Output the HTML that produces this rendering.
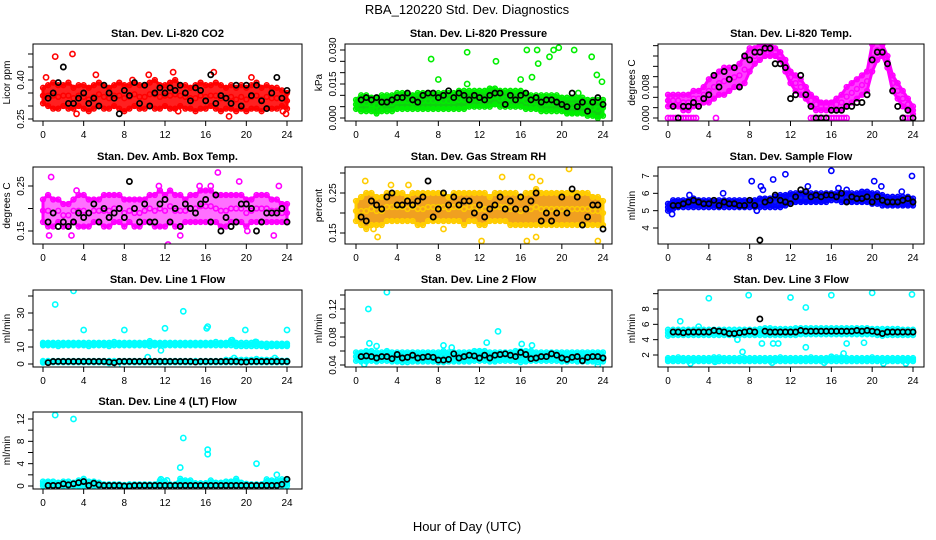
<!DOCTYPE html>
<html><head><meta charset="utf-8"><style>
html,body{margin:0;padding:0;background:#fff;}
svg{display:block;font-family:"Liberation Sans",sans-serif;}
</style></head><body>
<svg id="chart" width="936" height="540" viewBox="0 0 936 540" xmlns="http://www.w3.org/2000/svg">
<rect width="936" height="540" fill="#fff"/>
<text x="467" y="14" font-size="13" text-anchor="middle">RBA_120220  Std. Dev. Diagnostics</text>
<text x="467" y="531" font-size="13" text-anchor="middle">Hour of Day (UTC)</text>
</svg>
<script>
const hours = [0,0.5,1,1.5,2,2.5,3,3.5,4,4.5,5,5.5,6,6.5,7,7.5,8,8.5,9,9.5,10,10.5,11,11.5,12,12.5,13,13.5,14,14.5,15,15.5,16,16.5,17,17.5,18,18.5,19,19.5,20,20.5,21,21.5,22,22.5,23,23.5,24];
const xTicks = [0,4,8,12,16,20,24];

const co2Lo = [0.31,0.30,0.29,0.29,0.30,0.29,0.29,0.30,0.29,0.28,0.29,0.30,0.29,0.29,0.30,0.29,0.28,0.29,0.30,0.29,0.29,0.30,0.29,0.29,0.30,0.29,0.29,0.30,0.29,0.29,0.28,0.29,0.29,0.30,0.29,0.28,0.29,0.29,0.28,0.29,0.28,0.29,0.29,0.28,0.29,0.29,0.29,0.30,0.29];
const co2Hi = [0.37,0.38,0.39,0.38,0.38,0.39,0.37,0.38,0.38,0.37,0.38,0.39,0.38,0.37,0.38,0.39,0.38,0.38,0.39,0.38,0.38,0.39,0.40,0.38,0.38,0.39,0.40,0.38,0.38,0.37,0.38,0.39,0.38,0.38,0.39,0.38,0.37,0.38,0.37,0.38,0.37,0.38,0.39,0.37,0.38,0.37,0.37,0.36,0.35];
const co2Black = [null,0.33,0.35,0.39,0.45,0.31,0.31,0.33,0.35,0.31,0.33,0.30,0.38,0.35,0.33,0.27,0.36,0.34,0.39,0.31,0.38,0.30,0.35,0.37,0.35,0.37,0.36,0.38,0.35,0.32,0.37,0.36,0.32,0.42,0.31,0.34,0.33,0.31,0.38,0.30,0.38,0.34,0.38,0.32,0.29,0.35,0.41,0.33,0.36];
const co2OutX = [1.2,2.9,5.2,8.8,10.4,12.8,16.8,18.3,23.9,3.3,20.5,23.6,0.3,13.3];
const co2OutY = [0.49,0.50,0.42,0.40,0.42,0.43,0.43,0.26,0.27,0.27,0.41,0.28,0.41,0.28];

const prLo = [0.004,0.003,0.003,0.003,0.002,0.003,0.003,0.003,0.004,0.004,0.004,0.004,0.004,0.004,0.004,0.004,0.004,0.004,0.004,0.004,0.004,0.004,0.005,0.005,0.005,0.005,0.005,0.006,0.005,0.005,0.005,0.005,0.005,0.004,0.004,0.004,0.003,0.003,0.003,0.003,0.003,0.002,0.002,0.002,0.002,0.001,0.001,0.000,0.001];
const prHi = [0.008,0.010,0.010,0.009,0.009,0.010,0.010,0.010,0.011,0.011,0.011,0.010,0.011,0.011,0.011,0.011,0.011,0.011,0.011,0.011,0.012,0.012,0.012,0.012,0.012,0.012,0.013,0.013,0.012,0.012,0.012,0.012,0.012,0.011,0.010,0.010,0.010,0.010,0.010,0.010,0.009,0.009,0.009,0.009,0.009,0.008,0.008,0.008,0.008];
const prBlack = [null,0.008,0.009,0.008,0.009,0.007,0.007,0.008,0.009,0.009,0.011,0.008,0.007,0.010,0.011,0.011,0.009,0.010,0.012,0.009,0.011,0.010,0.008,0.010,0.009,0.008,0.010,0.011,0.011,0.006,0.010,0.008,0.010,0.011,0.008,0.009,0.007,0.008,0.008,0.007,0.006,0.005,0.011,0.005,0.007,0.003,0.007,0.009,0.006];
const prOutX = [7.3,8,10.8,10.8,13.6,16,16.6,17.1,17.6,17.7,18.8,19.2,19.7,21.2,21.6,22.9,23.4,23.9,1.5,2.3];
const prOutY = [0.026,0.017,0.029,0.015,0.025,0.017,0.030,0.018,0.030,0.024,0.027,0.030,0.031,0.030,0.011,0.027,0.019,0.016,0.004,0.004];

const tLo = [0.003,0.003,0.003,0.002,0.002,0.003,0.003,0.004,0.004,0.005,0.006,0.006,0.007,0.008,0.008,0.009,0.012,0.014,0.015,0.016,0.016,0.016,0.015,0.012,0.009,0.007,0.006,0.005,0.003,0.002,0.002,0.002,0.002,0.002,0.002,0.003,0.004,0.005,0.006,0.007,0.012,0.015,0.016,0.013,0.007,0.005,0.003,0.002,0.001];
const tHi = [0.006,0.006,0.006,0.006,0.006,0.007,0.007,0.008,0.010,0.011,0.012,0.013,0.013,0.013,0.014,0.016,0.018,0.018,0.019,0.019,0.019,0.018,0.017,0.015,0.012,0.011,0.010,0.008,0.006,0.005,0.004,0.004,0.004,0.005,0.006,0.008,0.009,0.010,0.011,0.012,0.019,0.020,0.019,0.016,0.011,0.009,0.007,0.005,0.003];
const tBlack = [null,0.003,0.000,0.003,0.003,0.004,0.003,0.005,0.006,0.011,0.008,0.012,0.010,0.013,0.008,0.016,0.015,0.017,0.017,0.018,0.018,0.014,0.014,0.013,0.005,0.006,0.011,0.006,0.003,0.000,0.000,0.000,0.002,0.002,0.002,0.003,0.003,0.004,0.004,0.006,0.015,0.017,0.017,0.014,0.007,0.003,0.000,0.002,0.000];
const tOutX = [0,0.25,0.5,0.75,1,1.25,1.5,1.75,2,2.25,2.5,2.75,4.7,14,14.25,14.5,14.75,15,15.25,15.5,15.75,16,16.25,16.5,16.75,17,17.25,17.5,23,23.25,23.5,23.75,24];
const tOutY = [0,0,0,0,0,0,0,0,0,0,0,0,0,0,0,0,0,0,0,0,0,0,0,0,0,0,0,0,0,0,0,0,0];

const ambLo = [0.17,0.16,0.16,0.17,0.16,0.16,0.17,0.16,0.16,0.16,0.17,0.17,0.16,0.16,0.17,0.17,0.16,0.17,0.16,0.16,0.17,0.17,0.16,0.16,0.16,0.17,0.16,0.16,0.17,0.17,0.17,0.17,0.17,0.17,0.17,0.16,0.16,0.17,0.17,0.17,0.16,0.17,0.17,0.17,0.17,0.17,0.17,0.17,0.17];
const ambHi = [0.22,0.23,0.22,0.22,0.21,0.21,0.22,0.23,0.23,0.22,0.22,0.22,0.23,0.23,0.23,0.23,0.22,0.22,0.22,0.22,0.22,0.23,0.23,0.24,0.23,0.24,0.23,0.23,0.22,0.23,0.23,0.24,0.24,0.24,0.23,0.23,0.23,0.23,0.23,0.23,0.22,0.22,0.23,0.23,0.23,0.22,0.22,0.21,0.21];
const ambBlack = [null,0.17,0.19,0.16,0.17,0.16,0.17,0.19,0.18,0.19,0.21,0.17,0.20,0.18,0.19,0.20,0.18,0.26,0.20,0.17,0.21,0.17,0.17,0.21,0.22,0.17,0.20,0.16,0.21,0.20,0.19,0.21,0.22,0.17,0.23,0.15,0.18,0.16,0.17,0.21,0.21,0.20,0.15,0.17,0.19,0.19,0.19,0.20,0.17];
const ambOutX = [0.8,0.6,12.3,17.2,19.3,22.7,23.2,13.5,3.3,11.4,2.8,16.5,20.1,15.4];
const ambOutY = [0.27,0.14,0.12,0.28,0.26,0.14,0.25,0.14,0.24,0.25,0.14,0.25,0.15,0.25];

const rhLo = [0.18,0.17,0.16,0.17,0.17,0.17,0.18,0.18,0.18,0.18,0.18,0.18,0.17,0.17,0.18,0.18,0.18,0.18,0.18,0.18,0.18,0.17,0.18,0.18,0.17,0.17,0.18,0.18,0.18,0.18,0.17,0.17,0.17,0.17,0.17,0.17,0.17,0.17,0.17,0.17,0.17,0.17,0.17,0.17,0.17,0.17,0.17,0.17,0.17];
const rhHi = [0.23,0.24,0.25,0.25,0.24,0.24,0.25,0.25,0.25,0.25,0.24,0.25,0.25,0.25,0.25,0.25,0.25,0.25,0.24,0.25,0.25,0.25,0.25,0.25,0.25,0.25,0.24,0.25,0.25,0.25,0.25,0.25,0.24,0.25,0.25,0.26,0.25,0.25,0.25,0.25,0.25,0.25,0.25,0.25,0.25,0.25,0.24,0.24,0.23];
const rhBlack = [null,0.19,0.18,0.23,0.22,0.21,0.24,0.25,0.22,0.22,0.23,0.22,0.23,0.24,0.28,0.19,0.21,0.25,0.22,0.24,0.22,0.23,0.23,0.20,0.22,0.19,0.21,0.22,0.24,0.21,0.23,0.21,0.24,0.21,0.23,0.25,0.18,0.20,0.18,0.20,0.24,0.20,0.26,0.24,0.17,0.19,0.22,0.22,0.16];
const rhOutX = [0.9,1.7,2.1,3.4,16.6,17.1,17.9,20.7,23.5,12.2,5.1,8.5,14.2,17.5];
const rhOutY = [0.28,0.16,0.14,0.27,0.13,0.29,0.28,0.31,0.13,0.13,0.27,0.16,0.29,0.14];

const flLo = [5.0,5.1,5.2,5.2,5.2,5.2,5.2,5.2,5.2,5.2,5.2,5.2,5.2,5.2,5.2,5.2,5.2,5.2,5.2,5.2,5.2,5.2,5.2,5.3,5.4,5.5,5.5,5.5,5.5,5.5,5.5,5.5,5.6,5.6,5.5,5.5,5.5,5.5,5.5,5.5,5.4,5.4,5.3,5.3,5.3,5.3,5.3,5.3,5.3];
const flHi = [5.4,5.6,5.6,5.6,5.6,5.7,5.6,5.6,5.6,5.6,5.6,5.6,5.6,5.6,5.6,5.6,5.6,5.6,5.7,5.7,5.7,5.8,5.9,5.9,6.0,6.0,6.0,6.0,6.0,6.0,6.0,6.0,6.0,6.0,6.0,6.0,6.0,6.0,6.1,6.1,6.0,6.0,5.9,5.8,5.8,5.8,5.8,5.8,5.7];
const flBlack = [null,5.3,5.3,5.4,5.5,5.6,5.5,5.4,5.4,5.6,5.3,5.5,5.4,5.4,5.3,5.3,5.6,5.3,3.3,5.5,5.6,5.9,5.6,5.5,5.4,5.8,6.2,6.1,5.8,5.9,5.8,5.9,5.9,5.8,6.0,5.5,5.8,5.7,5.7,5.8,5.5,5.8,5.6,5.5,5.5,5.5,5.6,5.7,5.5];
const flOutX = [0.4,2.1,5.4,8.2,9.1,9.3,10.3,11.5,13.7,16.0,16.7,17.5,20.2,20.9,22.9,23.9,8.7];
const flOutY = [4.8,5.9,6.0,6.7,6.4,6.2,6.8,7.1,6.4,7.3,6.3,6.2,6.7,6.4,6.1,7.0,5.0];

const l1Lo = [11,11,11,10.5,11,11,11,11,11,10.5,11,11,11,10.5,11,11,11,11,11,11,11,10.5,11,11,11,11,11,11,11,11,11,11,11,11,11,11,11,11,10.5,10.5,10.5,10.5,10.5,10.5,10,10.5,10.5,10.5,10.5];
const l1Hi = [12.5,12.5,12.5,12.5,12.5,12.5,12.5,12.5,12.5,12.5,12.5,12.5,12.5,12.5,13,12.5,12.5,12.5,12.5,12.5,12.5,13.5,12.5,12.5,12.5,12.5,12.5,12.5,12.5,12.5,12.5,12.5,12.5,12.5,13,12.5,12.5,14,12.5,12.5,12.5,12.5,13,12,12,12,12,12,12];
const l1Lo2 = [0.8,0.8,1,1,1,1,1,1,1,1,1,1,1,0.5,1,1,1,1,1,1,1,1,1,1,1,1,1,1,1,1,1,1,1,1,1,1,1,1,1,1,1,1,1,1,1,1,1,1,1];
const l1Hi2 = [1.8,1.8,1.8,1.8,1.8,1.8,1.8,1.8,1.8,1.8,1.8,1.8,1.8,1.8,1.8,1.8,1.8,1.8,1.8,1.8,1.8,1.8,1.8,1.8,1.8,1.8,1.8,1.8,1.8,1.8,1.8,1.8,1.8,1.8,1.8,1.8,2.5,2.5,2.5,2.5,2.5,2.5,3,2.5,2.5,2.5,2.5,2,2];
const l1Black = [null,0.8,1.5,1.5,1.5,1.5,1.5,1.5,1.5,1.5,1.5,1.5,1.5,1.2,0.8,1.5,1.5,1.5,1.5,1.5,1.5,1.5,1.5,1.5,1.5,1.5,1.5,1.5,1.5,1.5,1.2,1.5,1.5,1.5,1.5,1.5,1.5,1.5,1.5,1.2,1.2,1.5,1.5,1.5,1.5,1.5,1.5,1.5,1.5];
const l1OutX = [1.2,3,4,8,12,13.8,16.1,16.2,19.9,24,10.3,11.6,18.6,20.9,7.3,18.8,22.8];
const l1OutY = [35,43,20,20,21,31,21,22,20,20,4,8,14,13,-1,3.5,3.5];

const l2Lo = [0.046,0.045,0.045,0.046,0.045,0.046,0.046,0.045,0.045,0.044,0.044,0.045,0.045,0.045,0.045,0.045,0.044,0.044,0.045,0.045,0.045,0.045,0.045,0.046,0.046,0.046,0.045,0.045,0.046,0.046,0.046,0.046,0.044,0.045,0.046,0.046,0.046,0.046,0.046,0.046,0.045,0.045,0.046,0.045,0.045,0.045,0.045,0.044,0.045];
const l2Hi = [0.058,0.058,0.060,0.060,0.058,0.058,0.060,0.058,0.058,0.058,0.058,0.058,0.058,0.058,0.058,0.058,0.058,0.060,0.058,0.058,0.058,0.058,0.058,0.060,0.060,0.060,0.058,0.058,0.058,0.058,0.058,0.060,0.060,0.060,0.060,0.058,0.058,0.058,0.058,0.058,0.058,0.058,0.058,0.058,0.058,0.058,0.058,0.058,0.058];
const l2Black = [null,0.052,0.053,0.052,0.050,0.052,0.052,0.049,0.055,0.050,0.051,0.054,0.050,0.051,0.052,0.051,0.047,0.047,0.048,0.056,0.050,0.052,0.054,0.053,0.050,0.054,0.050,0.054,0.055,0.056,0.054,0.052,0.058,0.055,0.049,0.050,0.052,0.052,0.056,0.054,0.050,0.048,0.051,0.052,0.046,0.051,0.052,0.052,0.050];
const l2OutX = [1.2,3,13.8,1.3,8.5,12.7,16.1,2.0,9.3,17.1,23.5,0.8];
const l2OutY = [0.12,0.144,0.088,0.071,0.068,0.072,0.070,0.067,0.065,0.068,0.040,0.041];

const l3Lo = [4.5,4.6,4.6,4.6,4.6,4.6,4.6,4.6,4.6,4.6,4.6,4.6,4.6,4.6,4.6,4.6,4.6,4.6,4.6,4.6,4.6,4.6,4.6,4.6,4.6,4.6,4.7,4.7,4.7,4.7,4.7,4.7,4.7,4.7,4.7,4.7,4.7,4.7,4.7,4.7,4.7,4.6,4.5,4.6,4.6,4.6,4.6,4.6,4.6];
const l3Hi = [5.3,5.3,5.3,5.3,5.3,5.3,5.3,5.3,5.3,5.3,5.3,5.3,5.3,5.3,5.3,5.3,5.3,5.3,5.4,5.5,5.5,5.4,5.4,5.4,5.4,5.5,5.5,5.5,5.5,5.5,5.5,5.5,5.5,5.5,5.5,5.5,5.5,5.5,5.5,5.5,5.4,5.4,5.4,5.4,5.4,5.4,5.3,5.3,5.3];
const l3Lo2 = [1.2,1.2,1.2,1.2,1.2,1.2,1.2,1.2,1.2,1.2,1.2,1.2,1.2,1.2,1.2,1.2,1.2,1.2,1.2,1.2,1.2,1.2,1.2,1.2,1.2,1.2,1.2,1.2,1.2,1.2,1.2,1.2,1.2,1.2,1.2,1.2,1.2,1.2,1.2,1.2,1.2,1.2,1.2,1.2,1.2,1.2,1.2,1.2,1.2];
const l3Hi2 = [1.6,1.6,1.7,1.6,1.6,1.6,1.6,1.6,1.6,1.7,1.7,1.6,1.6,1.6,1.6,1.6,1.6,1.6,1.6,1.6,1.6,1.6,1.7,1.6,1.6,1.6,1.6,1.6,1.7,1.6,1.6,1.6,1.8,1.7,1.7,1.6,1.6,1.6,1.6,1.6,1.7,1.6,1.6,1.6,1.6,1.6,1.6,1.6,1.6];
const l3Black = [null,5.0,5.0,4.9,5.0,5.0,5.0,5.0,5.0,5.2,5.1,5.0,4.8,4.8,4.9,5.0,5.1,5.0,6.7,5.1,5.0,5.0,5.0,5.0,5.0,5.0,5.2,5.1,5.1,5.1,5.1,5.1,5.1,5.1,5.1,5.1,5.1,5.2,5.1,5.2,5.1,5.0,4.8,5.0,5.0,5.0,5.0,5.0,5.0];
const l3OutX = [1.2,3,4,7.9,12,13.5,16,20,23.9,13.5,10.3,10.8,9.2,7.3,17.5,19.2,17.2,2.2,10.2,6.8,4.6,21.1,23.3,15.3];
const l3OutY = [6.4,5.7,9.4,9.8,9.5,8.2,9.8,10.1,9.9,3.0,3.5,3.5,3.5,2.4,3.5,3.6,2.2,0.9,1.0,4.0,1.1,0.9,0.9,1.0];

const l4Lo = [0,0,0,0,0,0,0,0,0,0,0,0,0,0,0,0,0,0,0,0,0,0,0,0,0,0,0,0,0,0,0,0,0,0,0,0,0,0,0,0,0,0,0,0,0,0,0,0,0];
const l4Hi = [0.8,0.8,0.8,0.6,0.8,0.8,0.6,1.0,1.3,0.8,0.8,0.6,0.3,0.3,0.3,0.3,0.2,0.3,0.3,0.3,0.3,0.3,0.3,1.0,0.8,0.3,0.3,1.3,1.0,1.0,0.5,0.5,0.5,1.0,0.6,0.6,0.8,0.8,1.3,0.6,0.4,0.3,0.3,0.3,1.2,1.0,1.0,1.2,1.0];
const l4Black = [null,0.1,0.1,0.1,0.4,0.2,0.4,0.6,0.8,0.1,0.5,0.2,0.1,0.1,0.1,0.1,0.0,0.0,0.1,0.1,0.1,0.1,0.1,0.1,0.1,0.1,0.1,0.1,0.1,0.1,0.1,0.1,0.1,0.1,0.1,0.1,0.1,0.1,0.1,0.1,0.1,0.1,0.1,0.1,0.1,0.1,0.1,0.3,1.2];
const l4OutX = [1.2,3,13.5,13.8,16.2,16.2,21,23,11.6,12.2];
const l4OutY = [12.7,12,3.3,8.6,6.5,5.7,4,2,1.2,1.0];

const cols = [{x0:43,x24:287,bl:33,br:302},{x0:356,x24:603,bl:345,br:612},{x0:668,x24:913,bl:658,br:924}];
const rows = [[44,121],[167,244],[290,367],[412,489]];

const panels = [
 {name:'co2',title:'Stan. Dev. Li-820 CO2',ylab:'Licor ppm',c:0,r:0,col:'#ff0000',fill:'#ff2020',cal:[0.25,119,0.40,80],ticks:[0.25,0.30,0.35,0.40,0.45,0.50],labels:{'0.25':'0.25','0.4':'0.40'},lo:co2Lo,hi:co2Hi,black:co2Black,ox:co2OutX,oy:co2OutY},
 {name:'pressure',title:'Stan. Dev. Li-820 Pressure',ylab:'kPa',c:1,r:0,col:'#00ee00',fill:'#10d010',cal:[0,118,0.030,50],ticks:[0,0.005,0.010,0.015,0.020,0.025,0.030],labels:{'0':'0.000','0.015':'0.015','0.03':'0.030'},lo:prLo,hi:prHi,black:prBlack,ox:prOutX,oy:prOutY},
 {name:'li820-temp',title:'Stan. Dev. Li-820 Temp.',ylab:'degrees C',c:2,r:0,col:'#ff00ff',fill:'#ff40ff',cal:[0,118,0.008,87],ticks:[0,0.00267,0.00533,0.008,0.01067,0.01333,0.016,0.01867],labels:{'0':'0.000','0.008':'0.008'},lo:tLo,hi:tHi,black:tBlack,ox:tOutX,oy:tOutY},
 {name:'amb-box-temp',title:'Stan. Dev. Amb. Box Temp.',ylab:'degrees C',c:0,r:1,col:'#ff00ff',fill:'#ff70ff',cal:[0.15,231,0.25,186],ticks:[0.15,0.20,0.25],labels:{'0.15':'0.15','0.25':'0.25'},lo:ambLo,hi:ambHi,black:ambBlack,ox:ambOutX,oy:ambOutY},
 {name:'gas-stream-rh',title:'Stan. Dev. Gas Stream RH',ylab:'percent',c:1,r:1,col:'#ffcc00',fill:'#f0a020',cal:[0.15,233,0.25,193],ticks:[0.15,0.20,0.25,0.30],labels:{'0.15':'0.15','0.25':'0.25'},lo:rhLo,hi:rhHi,black:rhBlack,ox:rhOutX,oy:rhOutY},
 {name:'sample-flow',title:'Stan. Dev. Sample Flow',ylab:'ml/min',c:2,r:1,col:'#0000ff',fill:'#1020ee',cal:[4,228,7,176],ticks:[4,5,6,7],labels:{'4':'4','5':'5','6':'6','7':'7'},lo:flLo,hi:flHi,black:flBlack,ox:flOutX,oy:flOutY},
 {name:'line1-flow',title:'Stan. Dev. Line 1 Flow',ylab:'ml/min',c:0,r:2,col:'#00ffff',fill:'#00f0f0',cal:[0,364,30,313],ticks:[0,10,20,30,40],labels:{'0':'0','10':'10','30':'30'},lo:l1Lo,hi:l1Hi,lo2:l1Lo2,hi2:l1Hi2,black:l1Black,ox:l1OutX,oy:l1OutY},
 {name:'line2-flow',title:'Stan. Dev. Line 2 Flow',ylab:'ml/min',c:1,r:2,col:'#00ffff',fill:'#00f0f0',cal:[0.04,365,0.12,309],ticks:[0.04,0.06,0.08,0.10,0.12,0.14],labels:{'0.04':'0.04','0.08':'0.08','0.12':'0.12'},lo:l2Lo,hi:l2Hi,black:l2Black,ox:l2OutX,oy:l2OutY},
 {name:'line3-flow',title:'Stan. Dev. Line 3 Flow',ylab:'ml/min',c:2,r:2,col:'#00ffff',fill:'#00f0f0',cal:[2,355,8,309],ticks:[2,4,6,8,10],labels:{'2':'2','4':'4','6':'6','8':'8'},lo:l3Lo,hi:l3Hi,lo2:l3Lo2,hi2:l3Hi2,black:l3Black,ox:l3OutX,oy:l3OutY},
 {name:'line4-flow',title:'Stan. Dev. Line 4 (LT) Flow',ylab:'ml/min',c:0,r:3,col:'#00ffff',fill:'#00f0f0',cal:[0,486,12,419],ticks:[0,2,4,6,8,10,12],labels:{'0':'0','4':'4','8':'8','12':'12'},lo:l4Lo,hi:l4Hi,black:l4Black,ox:l4OutX,oy:l4OutY}
];

const NS='http://www.w3.org/2000/svg';
const svg=document.getElementById('chart');
function mk(tag,attrs,parent){const e=document.createElementNS(NS,tag);for(const k in attrs)e.setAttribute(k,attrs[k]);(parent||svg).appendChild(e);return e;}

panels.forEach(p=>{
  const C=cols[p.c],[top,bot]=rows[p.r];
  const xs=h=>C.x0+h*(C.x24-C.x0)/24;
  const [v1,p1,v2,p2]=p.cal;
  const ys=v=>p1+(v-v1)*(p2-p1)/(v2-v1);
  const g=mk('g',{});
  
  
  const cp=mk('clipPath',{id:'clip-'+p.name},g);
  mk('rect',{x:C.bl,y:top,width:C.br-C.bl,height:bot-top},cp);
  const pg=mk('g',{'clip-path':'url(#clip-'+p.name+')'},g);
  
  
  function band(lo,hi){
    let pts=hours.map((h,i)=>xs(h)+','+ys(hi[i]));
    pts=pts.concat(hours.map((h,i)=>xs(h)+','+ys(lo[i])).reverse());
    const poly=mk('polygon',{points:pts.join(' '),fill:p.fill,stroke:p.col,'stroke-width':3,'stroke-linejoin':'round'},pg);
    
    
    hours.forEach((h,i)=>{
      [lo[i],hi[i],(lo[i]+hi[i])/2].forEach(v=>{
        const c=mk('circle',{cx:xs(h),cy:ys(v),r:2.4,fill:'none',stroke:p.col,'stroke-width':1.5},pg);
        
        
      });
    });
  }
  band(p.lo,p.hi);
  if(p.lo2) band(p.lo2,p.hi2);
  p.ox.forEach((h,i)=>{
    const c=mk('circle',{cx:xs(h),cy:ys(p.oy[i]),r:2.6,fill:'none',stroke:p.col,'stroke-width':1.6},pg);
    
    
  });
  hours.forEach((h,i)=>{
    const v=p.black[i]; if(v===null) return;
    const c=mk('circle',{cx:xs(h),cy:ys(v),r:2.6,fill:'none',stroke:'#000','stroke-width':1.7},pg);
    
    
  });
  const box=mk('rect',{x:C.bl,y:top,width:C.br-C.bl,height:bot-top,fill:'none',stroke:'#000','stroke-width':1},g);
  
  
  const t=mk('text',{x:(C.bl+C.br)/2,y:top-7,'font-size':11,'font-weight':'bold','text-anchor':'middle'},g);
  t.textContent=p.title;
  
  
  xTicks.forEach(h=>{
    mk('line',{x1:xs(h),x2:xs(h),y1:bot,y2:bot+5,stroke:'#000','stroke-width':1},g);
    const l=mk('text',{x:xs(h),y:bot+17,'font-size':10,'text-anchor':'middle'},g);
    l.textContent=h;
    
    
  });
  p.ticks.forEach(v=>{
    const y=ys(v); if(y<top-2||y>bot+2) return;
    mk('line',{x1:C.bl-5,x2:C.bl,y1:y,y2:y,stroke:'#000','stroke-width':1},g);
    const key=String(+v.toFixed(5));
    if(p.labels[key]!==undefined){
      const l=mk('text',{x:0,y:0,'font-size':10,'text-anchor':'middle',transform:'translate('+(C.bl-9)+','+y+') rotate(-90)'},g);
      l.textContent=p.labels[key];
      
      
    }
  });
  const yl=mk('text',{x:0,y:0,'font-size':10,'text-anchor':'middle',transform:'translate('+(C.bl-23)+','+((top+bot)/2)+') rotate(-90)'},g);
  yl.textContent=p.ylab;
  
  
});
</script>
</body></html>
